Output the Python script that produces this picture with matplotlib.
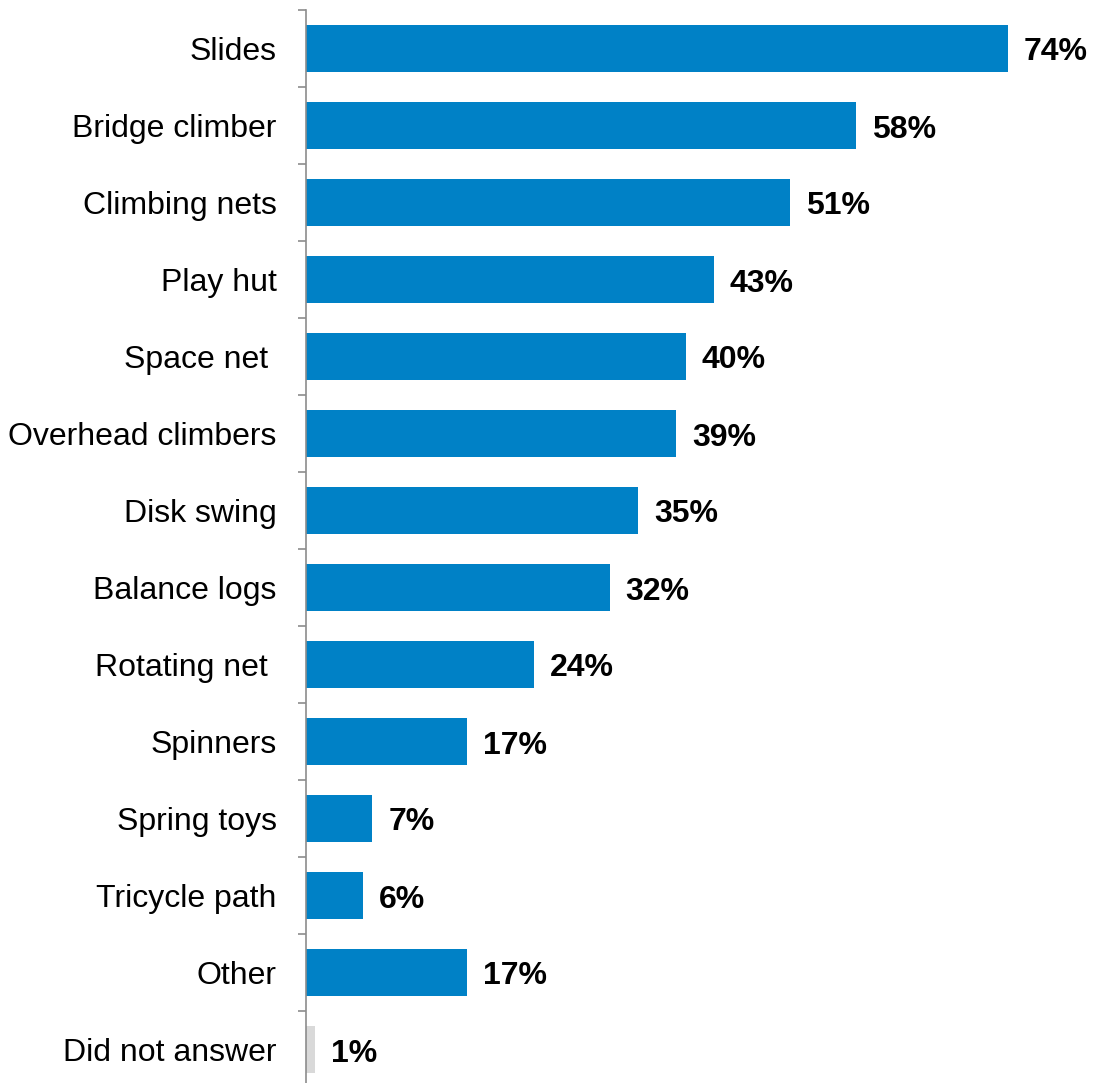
import matplotlib.pyplot as plt
import numpy as np

plt.rcParams['font.family'] = ['Liberation Sans', 'DejaVu Sans']

categories = ['Slides', 'Bridge climber', 'Climbing nets', 'Play hut', 'Space net ',
              'Overhead climbers', 'Disk swing', 'Balance logs', 'Rotating net ',
              'Spinners', 'Spring toys', 'Tricycle path', 'Other', 'Did not answer']
values = [74, 58, 51, 43, 40, 39, 35, 32, 24, 17, 7, 6, 17, 1]
colors = ['#0081C6'] * 13 + ['#D9D9D9']

fig = plt.figure(figsize=(10.95, 10.83), dpi=100)
ax = fig.add_axes([306 / 1095, -5 / 1083, 759 / 1095, 1078 / 1083])

y = np.arange(len(categories))
ax.barh(y, values, height=0.6, color=colors)

# value labels right of each bar
for yi, v in zip(y, values):
    ax.annotate(f'{v}%', (v, yi), xytext=(16, -4), textcoords='offset pixels',
                ha='left', va='center', fontsize=23, fontweight='bold')

ax.set_xlim(0, 80)
ax.set_ylim(len(categories) - 0.5, -0.5)
ax.set_yticks(y)
ax.set_yticklabels(categories, fontsize=23)
ax.tick_params(axis='y', which='major', length=0, pad=21)
ax.set_yticks(np.arange(len(categories) + 1) - 0.5, minor=True)
ax.tick_params(axis='y', which='minor', length=6, width=1.2, color='#8C8C8C')
ax.set_xticks([])
for s in ['top', 'right', 'bottom']:
    ax.spines[s].set_visible(False)
ax.spines['left'].set_color('#8C8C8C')
ax.spines['left'].set_linewidth(1.2)

fig.savefig('out.png', dpi=100)
